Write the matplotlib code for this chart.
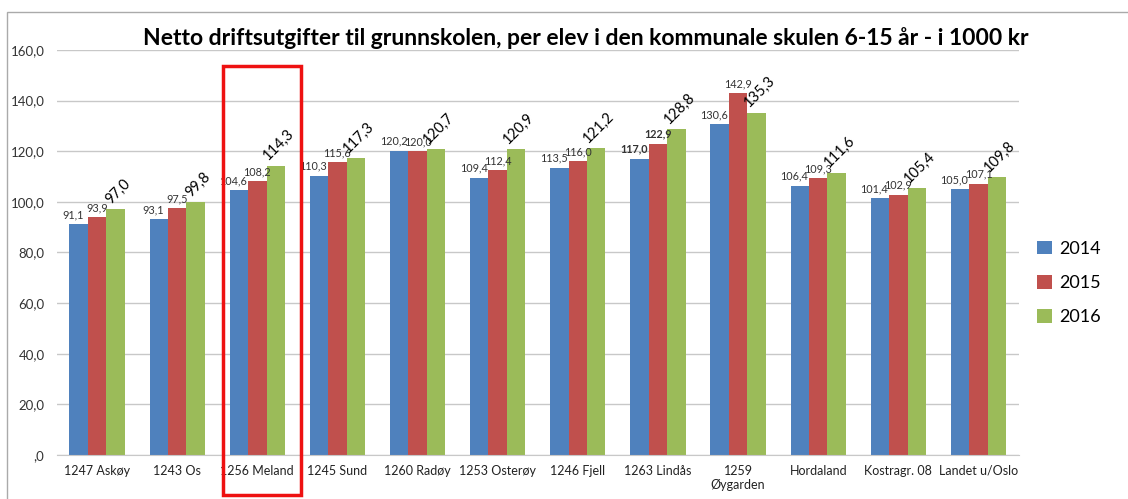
import matplotlib
matplotlib.use("Agg")
from matplotlib import pyplot as plt
from matplotlib.patches import Rectangle
import numpy as np

plt.rcParams['font.family'] = ['Lato', 'DejaVu Sans']

kommunar = ['1247 Askøy', '1243 Os', '1256 Meland', '1245 Sund', '1260 Radøy',
            '1253 Osterøy', '1246 Fjell', '1263 Lindås', '1259\nØygarden',
            'Hordaland', 'Kostragr. 08', 'Landet u/Oslo']
aar = ['2014', '2015', '2016']
v2014 = [91.1, 93.1, 104.6, 110.3, 120.2, 109.4, 113.5, 117.0, 130.6, 106.4, 101.4, 105.0]
v2015 = [93.9, 97.5, 108.2, 115.6, 120.0, 112.4, 116.0, 122.9, 142.9, 109.3, 102.9, 107.1]
v2016 = [97.0, 99.8, 114.3, 117.3, 120.7, 120.9, 121.2, 128.8, 135.3, 111.6, 105.4, 109.8]
yticks = [0, 20, 40, 60, 80, 100, 120, 140, 160]
farger = ['#4F81BD', '#C0504D', '#9BBB59']

def komma(v):
    s = '%.1f' % v
    if s.startswith('0'):
        s = s[1:]
    return s.replace('.', ',')

fig = plt.figure(figsize=(11.28, 4.99), dpi=100)
ax = fig.add_axes([0.0505, 0.0882, 0.8525, 0.8116])

x = np.arange(len(kommunar))
w = 0.23
bars = []
for i, (vals, c) in enumerate(zip([v2014, v2015, v2016], farger)):
    b = ax.bar(x + (i - 1) * w, vals, w, color=c, label=aar[i], zorder=2)
    bars.append(b)

# verdietikettar
for j in range(len(kommunar)):
    bold = 'bold' if j == 7 else 'normal'
    ax.annotate(komma(v2014[j]), (x[j] - w - 0.07, v2014[j]), xytext=(0, 3),
                textcoords='offset points', ha='center', va='bottom',
                fontsize=7.8, color='#333333', fontweight=bold)
    ax.annotate(komma(v2015[j]), (x[j], v2015[j]), xytext=(0, 3),
                textcoords='offset points', ha='center', va='bottom',
                fontsize=7.8, color='#333333', fontweight=bold)
    ax.annotate(komma(v2016[j]), (x[j] + w, v2016[j]), xytext=(2, 2),
                textcoords='offset points', ha='center', va='bottom',
                fontsize=10.5, rotation=45, color='black')

ax.set_xlim(-0.5, len(kommunar) - 0.5)
ax.set_ylim(0, 160)
ax.set_yticks(yticks)
ax.set_yticklabels([komma(t) for t in yticks], fontsize=9.5, color='#333333')
ax.set_xticks(x)
ax.set_xticklabels(kommunar, fontsize=9, color='#222222')
ax.tick_params(axis='both', length=0, pad=7)
ax.tick_params(axis='y', pad=9)
ax.grid(axis='y', color='#c8c8c8', linewidth=1, zorder=0)
for s in ['top', 'right', 'left']:
    ax.spines[s].set_visible(False)
ax.spines['bottom'].set_color('#c8c8c8')

# raud ramme rundt Meland
ax.add_patch(Rectangle((1.57, -15.8), 0.97, 169.5, fill=False, edgecolor='#ee1111',
                       linewidth=2.5, clip_on=False, zorder=5))

fig.text(0.519, 0.924, 'Netto driftsutgifter til grunnskolen, per elev i den kommunale skulen 6-15 år - i 1000 kr',
         ha='center', va='center', fontsize=16.5, fontweight='bold')

fig.legend(handles=bars, labels=aar, loc='center left', bbox_to_anchor=(0.905, 0.433),
           frameon=False, fontsize=13, handlelength=0.8, handleheight=0.8,
           handletextpad=0.4, labelspacing=1.0)

# ytre ramme
fig.patches.append(Rectangle((7 / 1128, -0.1), 1.2, 1 - 12 / 499 + 0.1, transform=fig.transFigure,
                             fill=False, edgecolor='#aaaaaa', linewidth=1))

fig.savefig('out.png', dpi=100)
